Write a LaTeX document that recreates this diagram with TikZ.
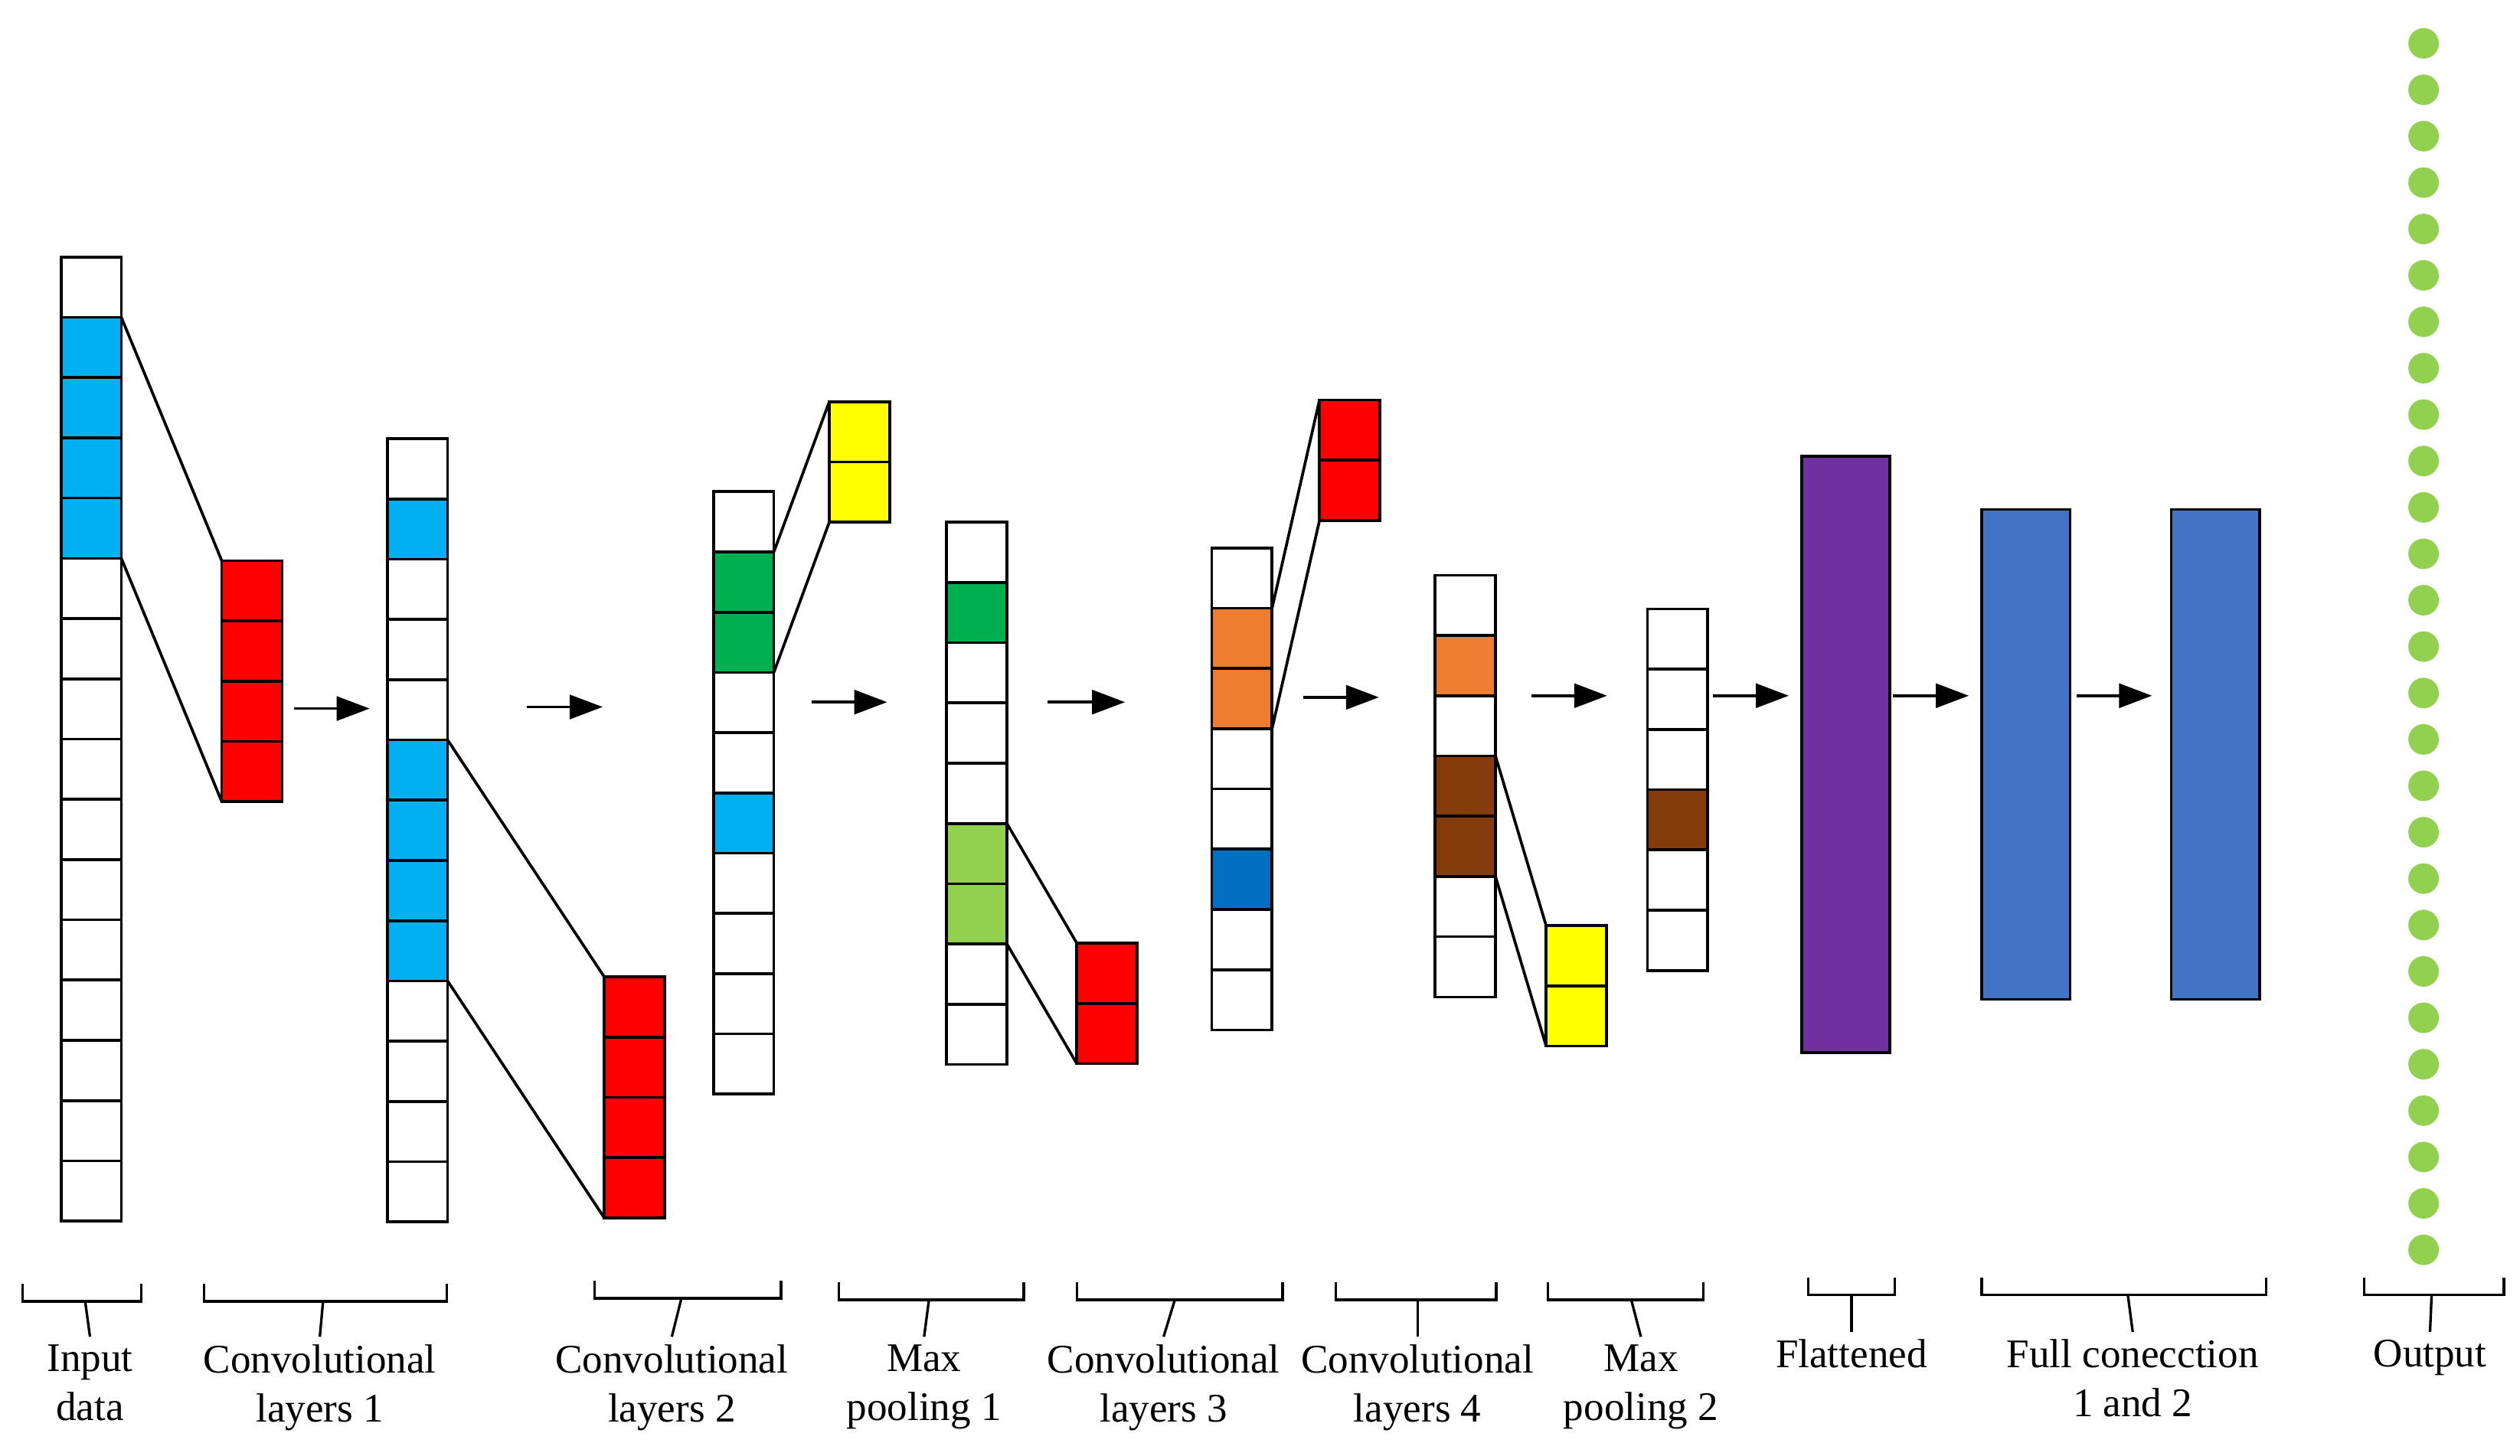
\documentclass[tikz,border=0pt]{standalone}
\usepackage{fontspec}
\setmainfont{Liberation Serif}
\usetikzlibrary{arrows.meta}

\definecolor{skyblue}{HTML}{00B0F0}
\definecolor{kernelred}{HTML}{FF0000}
\definecolor{kernelyellow}{HTML}{FFFF00}
\definecolor{leafgreen}{HTML}{00B050}
\definecolor{limegreen}{HTML}{92D050}
\definecolor{pumpkin}{HTML}{ED7D31}
\definecolor{deepblue}{HTML}{0070C0}
\definecolor{rust}{HTML}{843C0C}
\definecolor{violet}{HTML}{7030A0}
\definecolor{denseblue}{HTML}{4472C4}

\tikzset{cell/.style={draw, line width=1pt, minimum width=7.5mm, minimum height=7.5mm,
                      inner sep=0pt, outer sep=0pt, anchor=north west},
         block/.style={draw, line width=1pt, minimum width=11mm, inner sep=0pt,
                       outer sep=0pt, anchor=north west},
         link/.style={line width=1pt},
         flow/.style={line width=1pt, -{Triangle[length=4.1mm,width=3mm]}},
         brace/.style={line width=0.9pt},
         caption/.style={align=center, anchor=north, inner sep=2.5pt,
                         font=\fontsize{14.4}{17.4}\selectfont},
         outdot/.style={circle, fill=limegreen, minimum size=3.8mm, inner sep=0pt}}

% one column of cells: name, left x, top y, fill colours
\newcommand{\cellcolumn}[4]{%
  \foreach \c [count=\i] in {#4}
    \node[cell, fill=\c] (#1\i) at (#2, {#3+(\i-1)*37.5}) {};
}

\begin{document}
\begin{tikzpicture}[x=0.2mm, y=-0.2mm]
\useasboundingbox (0,0) rectangle (1568,906);

  % columns
  \cellcolumn{in}{38}{160}{white,skyblue,skyblue,skyblue,skyblue,white,white,white,white,white,white,white,white,white,white,white}
  \cellcolumn{ca}{241}{273}{white,skyblue,white,white,white,skyblue,skyblue,skyblue,skyblue,white,white,white,white}
  \cellcolumn{cb}{444}{306}{white,leafgreen,leafgreen,white,white,skyblue,white,white,white,white}
  \cellcolumn{pa}{589}{325}{white,leafgreen,white,white,white,limegreen,limegreen,white,white}
  \cellcolumn{cc}{754}{341}{white,pumpkin,pumpkin,white,white,deepblue,white,white}
  \cellcolumn{cd}{893}{358}{white,pumpkin,white,rust,rust,white,white}
  \cellcolumn{pb}{1025}{379}{white,white,white,rust,white,white}

  % kernels
  \cellcolumn{ka}{138}{349}{kernelred,kernelred,kernelred,kernelred}
  \cellcolumn{kb}{376}{608}{kernelred,kernelred,kernelred,kernelred}
  \cellcolumn{kc}{516}{250}{kernelyellow,kernelyellow}
  \cellcolumn{kd}{670}{587}{kernelred,kernelred}
  \cellcolumn{ke}{821}{249}{kernelred,kernelred}
  \cellcolumn{kf}{962}{576}{kernelyellow,kernelyellow}

  % dense layers
  \node[block, fill=violet, minimum height=74.2mm] (flat) at (1121,284) {};
  \node[block, fill=denseblue, minimum height=61mm] (fca) at (1233,317) {};
  \node[block, fill=denseblue, minimum height=61mm] (fcb) at (1351,317) {};

  % output units
  \foreach \k in {0,...,26}
    \node[outdot] (out\k) at (1508, {27+\k*28.88}) {};

  % receptive fields
  \draw[link] (in2.north east) -- (ka1.north west);
  \draw[link] (in5.south east) -- (ka4.south west);
  \draw[link] (ca6.north east) -- (kb1.north west);
  \draw[link] (ca9.south east) -- (kb4.south west);
  \draw[link] (cb2.north east) -- (kc1.north west);
  \draw[link] (cb3.south east) -- (kc2.south west);
  \draw[link] (pa6.north east) -- (kd1.north west);
  \draw[link] (pa7.south east) -- (kd2.south west);
  \draw[link] (cc2.north east) -- (ke1.north west);
  \draw[link] (cc3.south east) -- (ke2.south west);
  \draw[link] (cd4.north east) -- (kf1.north west);
  \draw[link] (cd5.south east) -- (kf2.south west);

  % arrows
  \foreach \xa/\xb/\y [count=\i] in {183/230/441, 328/375/440, 505/552/437,
      652/700/437, 811/858/434, 953/1000/433, 1066/1113/433, 1178/1225/433, 1292/1339/433} {
    \coordinate (from\i) at (\xa,\y);
    \coordinate (to\i) at (\xb,\y);
    \draw[flow] (from\i) -- (to\i);
  }

  % brackets and captions
  \foreach \xa/\xb/\yb/\xm/\xl/\yl/\txt [count=\i] in {
      14/88/810/53/56/832/{Input\\data},
      127/278/810/201/199/832/{Convolutional\\layers 1},
      370/486/808/424/418/832/{Convolutional\\layers 2},
      522/637/809/578/575/832/{Max\\pooling 1},
      670/798/809/731/724/832/{Convolutional\\layers 3},
      831/931/809/882/882/832/{Convolutional\\layers 4},
      963/1060/809/1015/1021/832/{Max\\pooling 2},
      1125/1179/806/1152/1152/829/{Flattened},
      1233/1410/806/1324/1327/829/{Full conecction\\1 and 2},
      1471/1558/806/1513/1512/829/{Output}} {
    \node[caption] (lab\i) at (\xl,\yl) {\txt};
    \draw[brace] (\xa,{\yb-11}) -- (\xa,\yb) -- (\xb,\yb) -- (\xb,{\yb-11});
    \draw[brace] (\xm,\yb) -- (lab\i.north);
  }

\end{tikzpicture}
\end{document}
